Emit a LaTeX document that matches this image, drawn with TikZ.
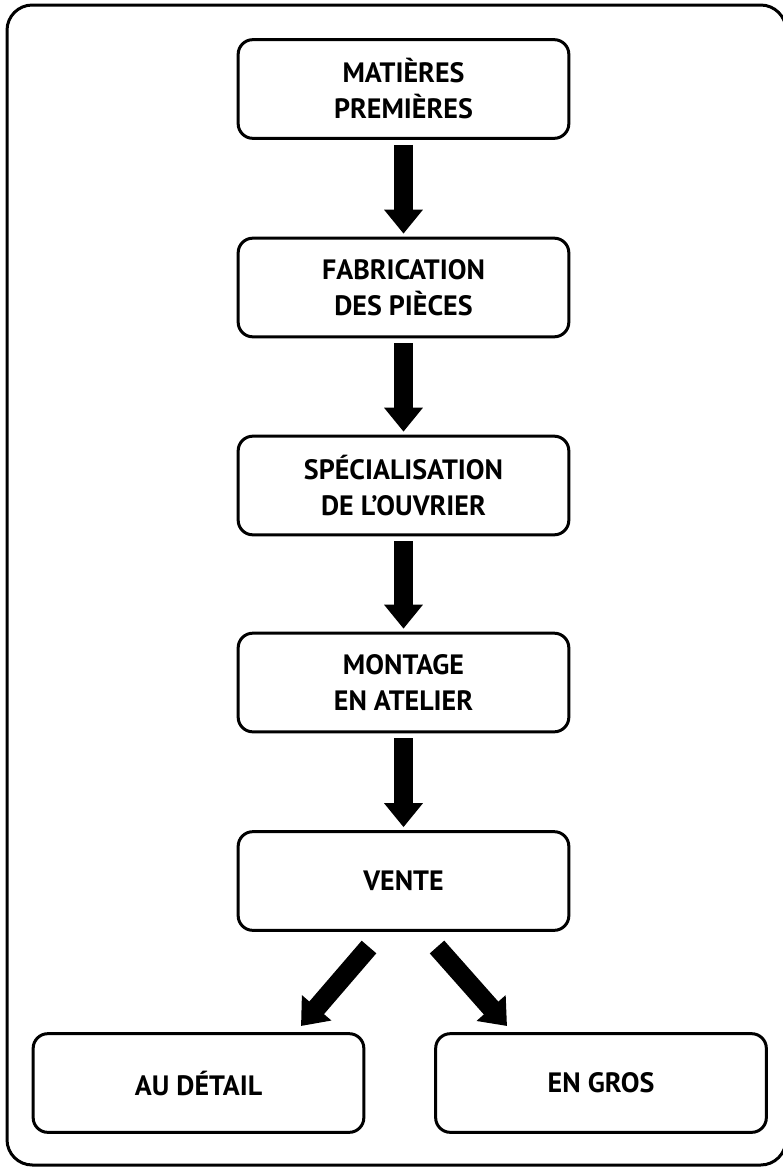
\documentclass[tikz,border=0pt]{standalone}
\usepackage{fontspec}
\setmainfont{PT Sans}
\usetikzlibrary{arrows.meta}

\begin{document}
\begin{tikzpicture}[x=0.75pt, y=-0.75pt,
	box/.style={draw, line width=2.25pt, rounded corners=11pt, minimum width=248pt, minimum height=74pt, inner sep=0pt, align=center, font=\bfseries\fontsize{21}{27}\selectfont},
	fleche/.style={line width=14.5pt, -{Triangle[length=18pt, width=28pt]}}]
	\useasboundingbox (0,0) rectangle (782,1167);
	\draw[line width=2.25pt, rounded corners=19pt] (7,5) rectangle (786,1165);
	\node[box] (1) at (403.5,89) {MATIÈRES\\PREMIÈRES};
	\node[box] (2) at (403.5,287.5) {FABRICATION\\DES PIÈCES};
	\node[box] (3) at (403.5,485.5) {SPÉCIALISATION\\DE L’OUVRIER};
	\node[box] (4) at (403.5,682.5) {MONTAGE\\EN ATELIER};
	\node[box] (5) at (403.5,881) {VENTE};
	\node[box] (6) at (198.5,1083) {AU DÉTAIL};
	\node[box] (7) at (601,1083) {EN GROS};
	\begin{scope}[shorten <=3.75pt, shorten >=2.25pt]
	\draw[fleche] (1) -- (2);
	\draw[fleche] (2) -- (3);
	\draw[fleche] (3) -- (4);
	\draw[fleche] (4) -- (5);
	\end{scope}
	\coordinate (5g) at (369,947);
	\coordinate (6h) at (301,1026);
	\coordinate (5d) at (437,947);
	\coordinate (7h) at (507,1026);
	\draw[fleche] (5g) -- (6h);
	\draw[fleche] (5d) -- (7h);
\end{tikzpicture}
\end{document}
